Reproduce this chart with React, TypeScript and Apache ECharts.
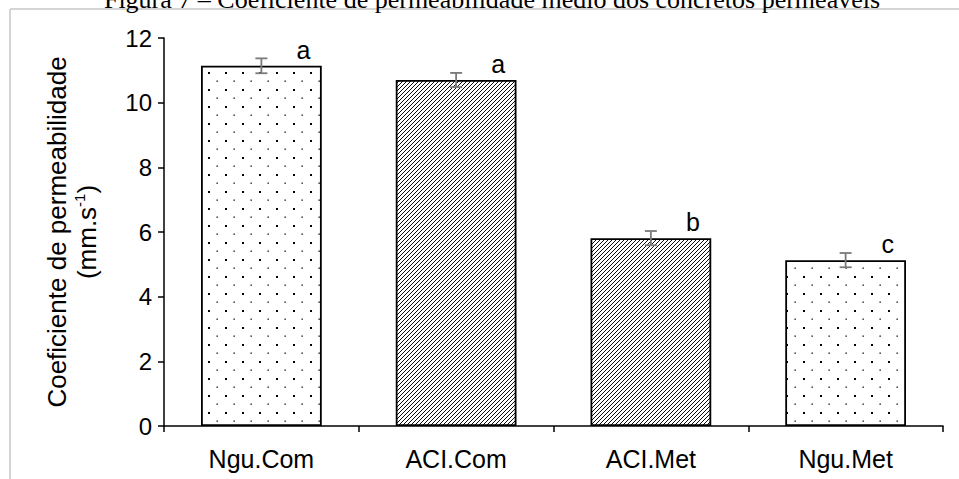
import React, { useEffect, useRef } from "react";
import * as echarts from "echarts";

const categories = ["Ngu.Com", "ACI.Com", "ACI.Met", "Ngu.Met"];
const values = [11.14, 10.7, 5.81, 5.13];
const errors = [0.23, 0.22, 0.22, 0.22];
const letters = ["a", "a", "b", "c"];
const patternKinds = ["dots", "hatch", "hatch", "dots"];
const yTicks = { min: 0, max: 12, interval: 2 };
const titleText = "Figura 7 – Coeficiente de permeabilidade médio dos concretos permeáveis";

const dotsSvg =
  '<svg xmlns="http://www.w3.org/2000/svg" width="17" height="17">' +
  '<rect x="0" y="0" width="17" height="17" fill="#fff"/>' +
  '<rect x="4" y="4" width="2" height="2" fill="#000"/>' +
  '<rect x="12.5" y="12.5" width="1.3" height="1.3" fill="#000"/>' +
  "</svg>";
const hatchSvg =
  '<svg xmlns="http://www.w3.org/2000/svg" width="4" height="4">' +
  '<rect x="0" y="0" width="4" height="4" fill="#fff"/>' +
  '<g stroke="#000" stroke-width="0.95">' +
  '<line x1="-1" y1="5" x2="5" y2="-1"/>' +
  '<line x1="-1" y1="1" x2="1" y2="-1"/>' +
  '<line x1="3" y1="5" x2="5" y2="3"/>' +
  "</g></svg>";

const toUrl = (s: string) => "data:image/svg+xml;charset=utf-8," + encodeURIComponent(s);

const patterns: Record<string, any> = {
  dots: { image: toUrl(dotsSvg), repeat: "repeat", imageWidth: 17, imageHeight: 17 },
  hatch: { image: toUrl(hatchSvg), repeat: "repeat", imageWidth: 4, imageHeight: 4 },
};

const FONT = "Liberation Sans, Arial, sans-serif";

export default function App() {
  const ref = useRef<HTMLDivElement>(null);
  useEffect(() => {
    if (!ref.current) return;
    const chart = echarts.init(ref.current, null, { renderer: "svg" });
    const option: any = {
      animation: false,
      backgroundColor: "#fff",
      grid: { left: 164, top: 38, right: 16, bottom: 53, containLabel: false },
      xAxis: {
        type: "category",
        data: categories,
        axisLine: { lineStyle: { color: "#000", width: 1.5 } },
        axisTick: { show: true, length: 6, lineStyle: { color: "#000", width: 1.5 } },
        axisLabel: { color: "#000", fontSize: 25, fontFamily: FONT, margin: 20 },
      },
      yAxis: {
        type: "value",
        min: yTicks.min,
        max: yTicks.max,
        interval: yTicks.interval,
        name: "{n|Coeficiente de permeabilidade}\n{n|(mm.s}{sup|-1}{n|)}",
        nameLocation: "middle",
        nameGap: 62,
        nameRotate: 90,
        nameTextStyle: {
          color: "#000",
          fontFamily: FONT,
          fontSize: 26,
          lineHeight: 30,
          rich: {
            n: { fontSize: 26, fontFamily: FONT, color: "#000", lineHeight: 30 },
            sup: { fontSize: 15, fontFamily: FONT, color: "#000", lineHeight: 14, verticalAlign: "top" },
          },
        },
        axisLine: { show: true, lineStyle: { color: "#000", width: 1.5 } },
        axisTick: { show: true, length: 6, lineStyle: { color: "#000", width: 1.5 } },
        axisLabel: { color: "#000", fontSize: 24, fontFamily: FONT, margin: 12 },
        splitLine: { show: false },
      },
      graphic: [
        {
          type: "line",
          shape: { x1: 10, y1: 9, x2: 959, y2: 9 },
          style: { stroke: "#d4d4d4", lineWidth: 2 },
          z: -1,
        },
        {
          type: "line",
          shape: { x1: 10, y1: 9, x2: 10, y2: 479 },
          style: { stroke: "#d4d4d4", lineWidth: 2 },
          z: -1,
        },
        {
          type: "text",
          x: 492,
          y: 12,
          style: {
            text: titleText,
            fill: "#000",
            font: "26px 'Liberation Serif', 'Times New Roman', serif",
            textAlign: "center",
            textVerticalAlign: "bottom",
          },
        },
      ],
      series: [
        {
          type: "bar",
          barWidth: "62%",
          data: values.map((v, i) => ({
            value: v,
            itemStyle: {
              color: patterns[patternKinds[i]],
              borderColor: "#000",
              borderWidth: 1.8,
            },
          })),
        },
        {
          type: "custom",
          data: values.map((v, i) => [i, v, errors[i]]),
          renderItem: (params: any, api: any) => {
            const i = api.value(0);
            const v = api.value(1);
            const e = api.value(2);
            const top = api.coord([i, v + e]);
            const bot = api.coord([i, v - e]);
            const hw = 6;
            const st = { stroke: "#7a7a7a", lineWidth: 1.8 };
            return {
              type: "group",
              children: [
                { type: "line", shape: { x1: top[0], y1: top[1], x2: bot[0], y2: bot[1] }, style: st },
                { type: "line", shape: { x1: top[0] - hw, y1: top[1], x2: top[0] + hw, y2: top[1] }, style: st },
                { type: "line", shape: { x1: bot[0] - hw, y1: bot[1], x2: bot[0] + hw, y2: bot[1] }, style: st },
              ],
            };
          },
          z: 5,
        },
        {
          type: "custom",
          data: values.map((v, i) => [i, v]),
          renderItem: (params: any, api: any) => {
            const i = api.value(0);
            const v = api.value(1);
            const p = api.coord([i, v]);
            return {
              type: "text",
              x: p[0] + 42,
              y: p[1] - 16,
              style: {
                text: letters[params.dataIndex],
                fill: "#000",
                font: "25px 'Liberation Sans', Arial, sans-serif",
                textAlign: "center",
                textVerticalAlign: "middle",
              },
            };
          },
          z: 6,
        },
      ],
    };
    chart.setOption(option);
    return () => chart.dispose();
  }, []);
  return (
    <div
      ref={ref}
      style={{ position: "fixed", left: 0, top: 0, width: 959, height: 479, background: "#fff" }}
    />
  );
}
